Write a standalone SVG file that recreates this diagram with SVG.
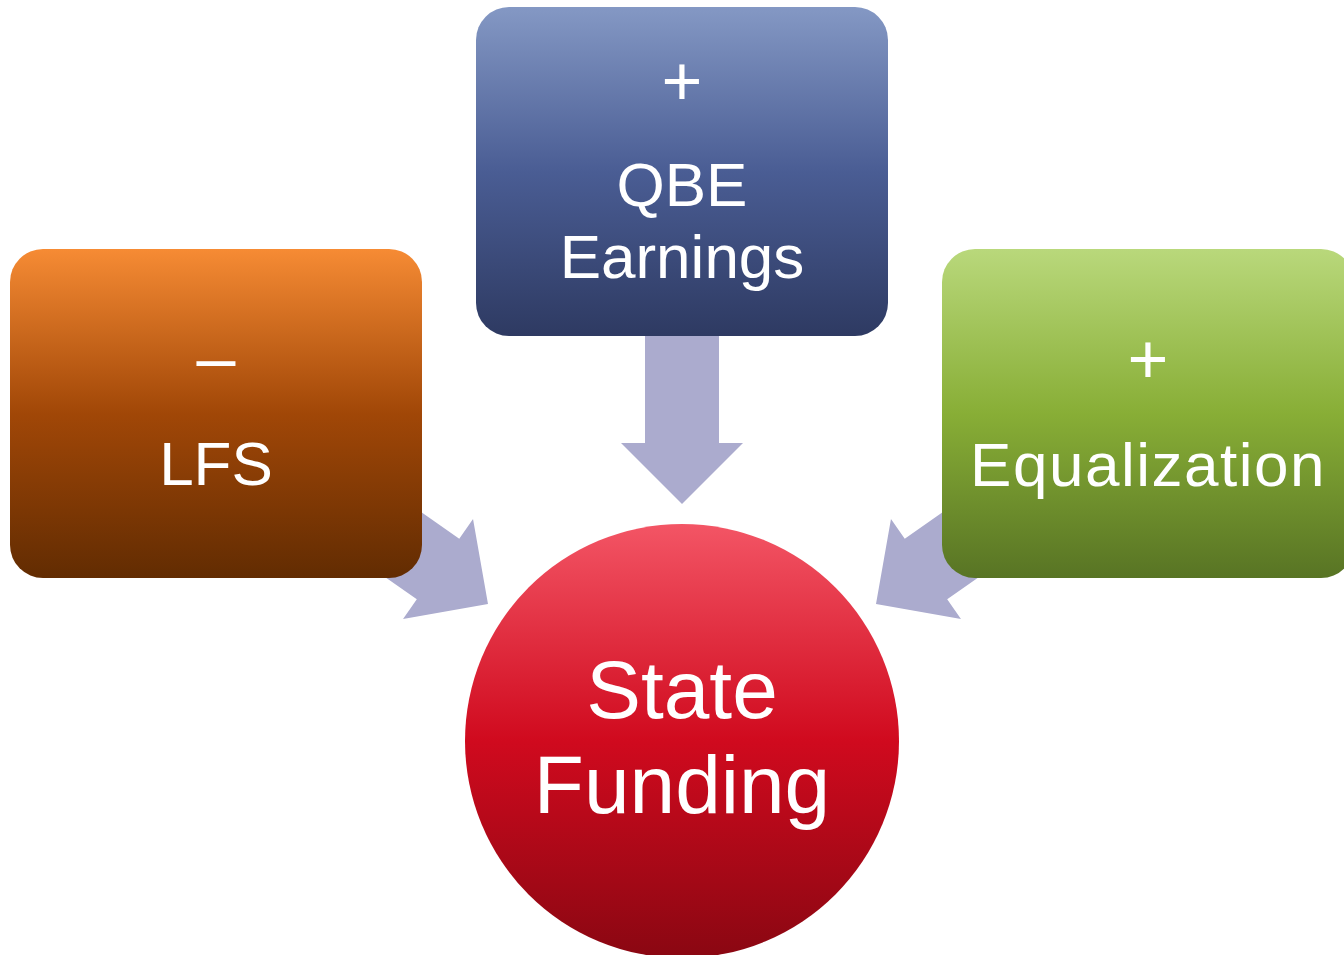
<svg xmlns="http://www.w3.org/2000/svg" width="1344" height="955" viewBox="0 0 1344 955">
<defs>
<linearGradient id="gOrange" x1="0" y1="0" x2="0" y2="1">
<stop offset="0" stop-color="#F68B34"/><stop offset="0.5" stop-color="#A14707"/><stop offset="1" stop-color="#622C02"/>
</linearGradient>
<linearGradient id="gBlue" x1="0" y1="0" x2="0" y2="1">
<stop offset="0" stop-color="#8498C4"/><stop offset="0.5" stop-color="#4A5D94"/><stop offset="1" stop-color="#2E3A62"/>
</linearGradient>
<linearGradient id="gGreen" x1="0" y1="0" x2="0" y2="1">
<stop offset="0" stop-color="#B9D87B"/><stop offset="0.5" stop-color="#88AE36"/><stop offset="1" stop-color="#587424"/>
</linearGradient>
<linearGradient id="gRed" x1="0" y1="0" x2="0" y2="1">
<stop offset="0" stop-color="#F35565"/><stop offset="0.5" stop-color="#D00A1E"/><stop offset="1" stop-color="#8A0712"/>
</linearGradient>
<polygon id="arrow" points="-37,-168 37,-168 37,-61 61,-61 0,0 -61,-61 -37,-61"/>
</defs>
<style>
.arr{fill:#ABABCE}
.t{font-family:"Liberation Sans",Arial,sans-serif;fill:#FFFFFF;text-anchor:middle}
.m{font-size:62px}
.s{font-size:70px}
.b{font-size:82px}
</style>
<g id="connectors">
<use href="#arrow" class="arr" transform="translate(682,504)"/>
<use href="#arrow" class="arr" transform="translate(488,604) rotate(-55)"/>
<use href="#arrow" class="arr" transform="translate(876,604) rotate(55)"/>
</g>
<g id="lfs">
<rect x="10" y="249" width="412" height="329" rx="33" fill="url(#gOrange)"/>
<text class="t s" x="216" y="382">–</text>
<text class="t m" x="216" y="485">LFS</text>
</g>
<g id="qbe">
<rect x="476" y="7" width="412" height="329" rx="33" fill="url(#gBlue)"/>
<text class="t s" x="682" y="105">+</text>
<text class="t m" x="682" y="206">QBE</text>
<text class="t m" x="682" y="278">Earnings</text>
</g>
<g id="equalization">
<rect x="942" y="249" width="412" height="329" rx="33" fill="url(#gGreen)"/>
<text class="t s" x="1148" y="383">+</text>
<text class="t m" x="1148" y="486" letter-spacing="1.5">Equalization</text>
</g>
<g id="state-funding">
<circle cx="682" cy="741" r="217" fill="url(#gRed)"/>
<text class="t b" x="682" y="718">State</text>
<text class="t b" x="682" y="813">Funding</text>
</g>
</svg>
